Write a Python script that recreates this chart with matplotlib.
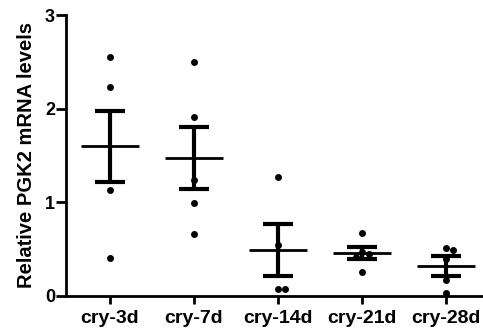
import matplotlib
matplotlib.use("Agg")
import matplotlib.pyplot as plt
import numpy as np

categories = ["cry-3d", "cry-7d", "cry-14d", "cry-21d", "cry-28d"]
values = [
    [2.55, 2.23, 1.13, 0.41],
    [2.50, 1.91, 1.24, 0.99, 0.66],
    [1.27, 0.54, 0.07, 0.07],
    [0.67, 0.47, 0.45, 0.42, 0.26],
    [0.51, 0.49, 0.40, 0.17, 0.03],
]
means = [1.60, 1.47, 0.49, 0.46, 0.32]
sems = [0.38, 0.33, 0.28, 0.065, 0.105]
yticks = [0, 1, 2, 3]

plt.rcParams['font.family'] = ['Liberation Sans', 'DejaVu Sans']
fig = plt.figure(figsize=(4.83, 3.32), dpi=100)
W, H = 483, 332
ax = fig.add_axes([66 / W, 1 - 296 / H, (483 - 66) / W, (296 - 15) / H])

ax.set_xlim(-0.524, 4.44)
ax.set_ylim(0, 3)

px_per_x = 84.0
px_per_y = 93.7
diam = 6.5

for i, vals in enumerate(values):
    placed = []
    xs = []
    for v in vals:
        off = 0.0
        step = 0
        while any(np.hypot((off - po) * px_per_x, (v - pv) * px_per_y) < diam for po, pv in placed):
            step += 1
            off = ((step + 1) // 2) * (diam / px_per_x) * (1 if step % 2 else -1)
        placed.append((off, v))
        xs.append(i + off)
    ax.scatter(xs, vals, s=25, color='black', zorder=3, linewidths=0)
    m, s = means[i], sems[i]
    ax.plot([i - 0.34, i + 0.34], [m, m], color='black', lw=2, solid_capstyle='butt')
    ax.plot([i, i], [m - s, m + s], color='black', lw=3, solid_capstyle='butt')
    for yy in (m - s, m + s):
        ax.plot([i - 0.18, i + 0.18], [yy, yy], color='black', lw=3, solid_capstyle='butt')

ax.set_xticks(range(len(categories)))
ax.set_xticklabels(categories, fontsize=14, fontweight='bold')
ax.set_yticks(yticks)
ax.set_yticklabels([str(t) for t in yticks], fontsize=13, fontweight='bold')
ax.set_ylabel("Relative PGK2 mRNA levels", fontsize=14.5, fontweight='bold', labelpad=6)
for sp in ['top', 'right']:
    ax.spines[sp].set_visible(False)
for sp in ['left', 'bottom']:
    ax.spines[sp].set_linewidth(2)
ax.tick_params(axis='y', direction='out', length=7, width=2, pad=1)
ax.tick_params(axis='x', direction='out', length=6, width=2, pad=4)
ax.spines['left'].set_bounds(0, 3)

fig.savefig("out.png", dpi=100)
